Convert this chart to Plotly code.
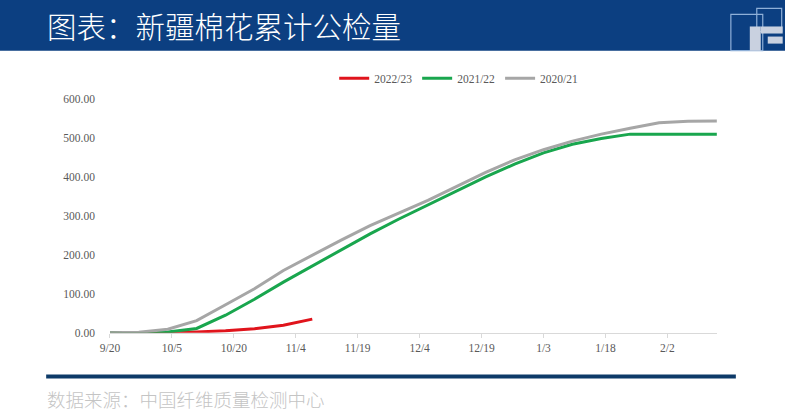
import plotly.graph_objects as go

# ---- data ----
dates = ["2022-09-20", "2022-09-27", "2022-10-04", "2022-10-11", "2022-10-18", "2022-10-25",
         "2022-11-01", "2022-11-08", "2022-11-15", "2022-11-22", "2022-11-29", "2022-12-06",
         "2022-12-13", "2022-12-20", "2022-12-27", "2023-01-03", "2023-01-10", "2023-01-17",
         "2023-01-24", "2023-01-31", "2023-02-07", "2023-02-14"]
s_2022_23 = [0, 0, 0.5, 2, 5, 10, 19, 35]
s_2021_22 = [0, 0, 2, 11, 45, 86, 130, 172, 214, 254, 292, 328, 362, 400, 433, 462, 484, 499,
             510, 510, 510, 510]
s_2020_21 = [0, 1, 9, 31, 72, 113, 160, 200, 238, 275, 308, 340, 376, 412, 444, 470, 492, 510,
             525, 539, 543, 544]
tick_vals = ["2022-09-20", "2022-10-05", "2022-10-20", "2022-11-04", "2022-11-19", "2022-12-04",
             "2022-12-19", "2023-01-03", "2023-01-18", "2023-02-02"]
tick_text = ["9/20", "10/5", "10/20", "11/4", "11/19", "12/4", "12/19", "1/3", "1/18", "2/2"]
y_ticks = [0, 100, 200, 300, 400, 500, 600]

W, H = 785, 418
M = 8  # body margin of the page; the page is fitted to the window when photographed
def px(S): return (1.0095 * S - 9.8) / W                 # window pixel -> paper fraction
def py(S): return 1 - (S * (H + 2 * M) / H - M) / H

SERIF = "Liberation Serif, Times New Roman, serif"
CJK = "Noto Sans CJK SC, sans-serif"

fig = go.Figure()
fig.add_trace(go.Scatter(x=dates[:len(s_2022_23)], y=s_2022_23, name="2022/23", mode="lines",
                         line=dict(color="#e0141c", width=3)))
fig.add_trace(go.Scatter(x=dates, y=s_2021_22, name="2021/22", mode="lines",
                         line=dict(color="#19a64e", width=3)))
fig.add_trace(go.Scatter(x=dates, y=s_2020_21, name="2020/21", mode="lines",
                         line=dict(color="#a6a6a6", width=3)))

shapes = [
    # title bar
    dict(type="rect", xref="paper", yref="paper", x0=px(-5), x1=px(795), y0=py(52), y1=py(-5),
         fillcolor="#0c3f81", line=dict(width=0), layer="below"),
    # bottom rule
    dict(type="rect", xref="paper", yref="paper", x0=px(46), x1=px(738), y0=py(377), y1=py(373),
         fillcolor="#0d3a68", line=dict(width=0)),
    # logo outlines
    dict(type="rect", xref="paper", yref="paper", x0=px(733), x1=px(765), y0=py(52), y1=py(16),
         fillcolor="rgba(0,0,0,0)", line=dict(color="#8fb0d8", width=1.2)),
    dict(type="rect", xref="paper", yref="paper", x0=px(759), x1=px(784), y0=py(33), y1=py(10),
         fillcolor="rgba(0,0,0,0)", line=dict(color="#8fb0d8", width=1.2)),
    # logo fill pieces
    dict(type="rect", xref="paper", yref="paper", x0=px(752), x1=px(763), y0=py(52), y1=py(28),
         fillcolor="#c9d1e0", line=dict(width=0)),
    dict(type="rect", xref="paper", yref="paper", x0=px(763), x1=px(785), y0=py(35), y1=py(28),
         fillcolor="#c9d1e0", line=dict(width=0)),
    dict(type="rect", xref="paper", yref="paper", x0=px(770), x1=px(785), y0=py(45), y1=py(38),
         fillcolor="#c9d1e0", line=dict(width=0)),
]

annotations = [
    dict(text="图表：新疆棉花累计公检量", xref="paper", yref="paper", x=px(45), y=py(27),
         xanchor="left", yanchor="middle", showarrow=False,
         font=dict(family=CJK, size=29.5, color="white", weight=300)),
    dict(text="数据来源：中国纤维质量检测中心", xref="paper", yref="paper", x=px(45), y=py(397),
         xanchor="left", yanchor="middle", showarrow=False,
         font=dict(family=CJK, size=18.5, color="#c4c4c4", weight=300)),
]

fig.update_layout(
    width=W, height=H, margin=dict(l=0, r=0, t=0, b=0),
    paper_bgcolor="white", plot_bgcolor="white",
    shapes=shapes, annotations=annotations,
    showlegend=True,
    legend=dict(orientation="h", x=px(335), y=py(65), xanchor="left", yanchor="top",
                font=dict(family=SERIF, size=11.5, color="#595959"),
                bgcolor="rgba(0,0,0,0)", itemwidth=30),
    xaxis=dict(domain=[px(110), px(719)], type="date",
               range=["2022-09-20", "2023-02-14"],
               tickvals=tick_vals, ticktext=tick_text,
               showgrid=False, zeroline=False,
               showline=True, linecolor="#d9d9d9", linewidth=1,
               ticks="outside", ticklen=4, tickcolor="#d9d9d9",
               tickfont=dict(family=SERIF, size=11.5, color="#595959")),
    yaxis=dict(domain=[py(331.7), py(100)], range=[0, 600],
               tickvals=y_ticks, tickformat=".2f",
               showgrid=False, zeroline=False, showline=False,
               ticklabelstandoff=14,
               tickfont=dict(family=SERIF, size=11.5, color="#595959")),
)

fig.write_html("out.html")
